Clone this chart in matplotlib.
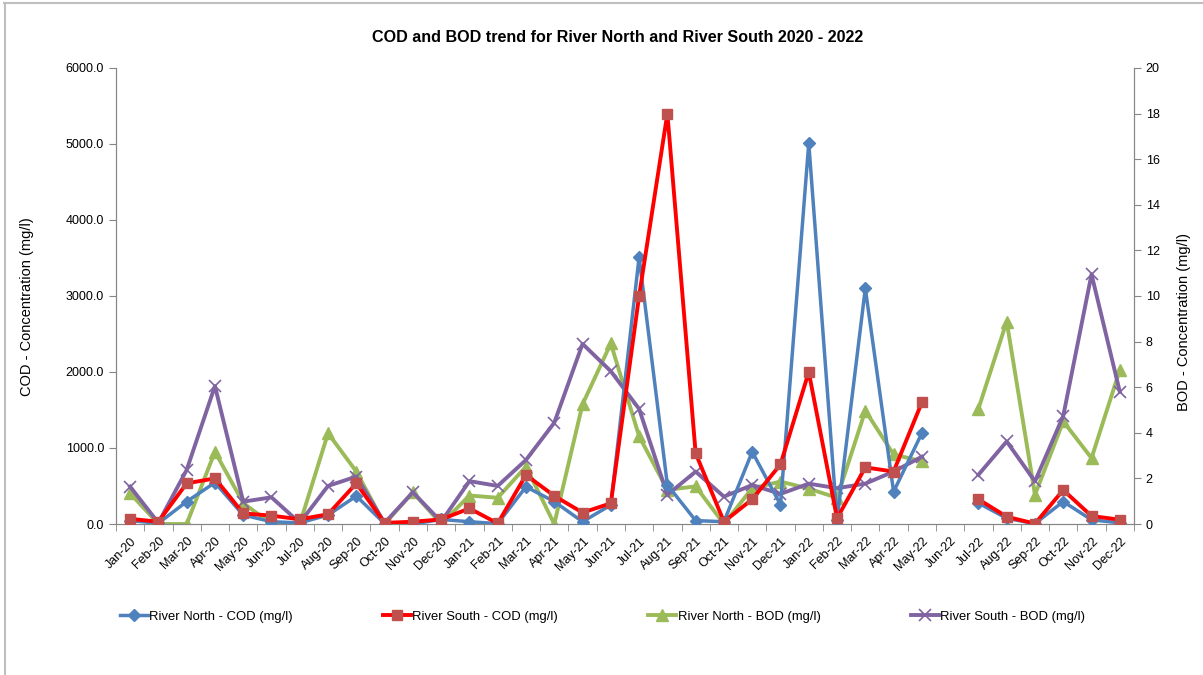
import matplotlib
matplotlib.use('Agg')
import matplotlib.pyplot as plt
from matplotlib.lines import Line2D
import numpy as np

plt.rcParams['font.family'] = ['Liberation Sans', 'DejaVu Sans']

# monthly samples, Jan-20 .. Dec-22 (no sampling in Jun-22)
months = ['Jan-20', 'Feb-20', 'Mar-20', 'Apr-20', 'May-20', 'Jun-20', 'Jul-20', 'Aug-20',
          'Sep-20', 'Oct-20', 'Nov-20', 'Dec-20',
          'Jan-21', 'Feb-21', 'Mar-21', 'Apr-21', 'May-21', 'Jun-21', 'Jul-21', 'Aug-21',
          'Sep-21', 'Oct-21', 'Nov-21', 'Dec-21',
          'Jan-22', 'Feb-22', 'Mar-22', 'Apr-22', 'May-22', 'Jun-22', 'Jul-22', 'Aug-22',
          'Sep-22', 'Oct-22', 'Nov-22', 'Dec-22']
nan = np.nan
north_cod = [45, 10, 295, 545, 118, 30, 15, 118, 368, 5, 0, 60,
             30, 5, 490, 295, 30, 250, 3510, 515, 45, 30, 950, 255,
             5010, 55, 3100, 425, 1195, nan, 275, 75, 5, 295, 55, 15]
south_cod = [68, 30, 535, 600, 140, 110, 62, 128, 535, 15, 30, 60,
             205, 8, 645, 370, 150, 272, 3000, 5400, 930, 30, 325, 785,
             2000, 75, 745, 690, 1600, nan, 325, 96, 5, 447, 105, 57]
north_bod = [1.35, 0.0, 0.0, 3.17, 0.92, 0.0, 0.0, 3.98, 2.3, 0.0, 1.39, 0.0,
             1.25, 1.15, 2.52, 0.0, 5.25, 7.92, 3.85, 1.5, 1.65, 0.0, 1.57, 1.86,
             1.55, 1.15, 4.97, 3.05, 2.75, nan, 5.05, 8.88, 1.28, 4.5, 2.89, 6.76]
south_bod = [1.64, 0.05, 2.37, 6.05, 0.98, 1.17, 0.05, 1.67, 2.08, 0.05, 1.39, 0.1,
             1.88, 1.67, 2.81, 4.44, 7.9, 6.7, 5.05, 1.28, 2.3, 1.2, 1.71, 1.32,
             1.77, 1.57, 1.77, 2.3, 2.95, nan, 2.16, 3.62, 1.87, 4.74, 10.95, 5.8]

x = np.arange(len(months))

fig = plt.figure(figsize=(12.03, 6.75), dpi=100)
ax = fig.add_axes([0.0964, 0.2237, 0.8462, 0.6756])
ax2 = ax.twinx()

ax.plot(x, north_cod, color='#4F81BD', lw=2.5, marker='D', ms=6,
        mfc='#4F81BD', mec='#4F81BD', label='River North - COD (mg/l)', zorder=3)
ax.plot(x, south_cod, color='#FF0000', lw=2.8, marker='s', ms=7,
        mfc='#C0504D', mec='#C0504D', label='River South - COD (mg/l)', zorder=3)
ax2.plot(x, north_bod, color='#9BBB59', lw=2.8, marker='^', ms=8,
         mfc='#9BBB59', mec='#9BBB59', label='River North - BOD (mg/l)')
ax2.plot(x, south_bod, color='#8064A2', lw=2.8, marker='x', ms=8, mew=1.2,
         mfc='#8064A2', mec='#8064A2', label='River South - BOD (mg/l)')

ax.set_zorder(ax2.get_zorder() + 1)
ax.patch.set_visible(False)

ax.set_xlim(-0.5, len(months) - 0.5)
ax.set_ylim(0, 6000)
ax2.set_ylim(0, 20)
ax.set_yticks(np.arange(0, 6001, 1000))
ax.set_yticklabels(['%.1f' % v for v in np.arange(0, 6001, 1000)])
ax2.set_yticks(np.arange(0, 21, 2))

ax.set_xticks(x)
ax.set_xticklabels(months, rotation=45, ha='right', rotation_mode='anchor', fontsize=9)
ax.set_xticks(np.arange(-0.5, len(months), 1), minor=True)
ax.tick_params(axis='x', which='major', length=0, pad=8)
ax.tick_params(axis='x', which='minor', length=5, color='#868686')
ax.tick_params(axis='y', length=5, color='#868686', labelsize=9)
ax2.tick_params(axis='y', length=5, color='#868686', labelsize=9)

for a in (ax, ax2):
    a.spines['top'].set_visible(False)
    for s in ('left', 'right', 'bottom'):
        a.spines[s].set_color('#868686')

ax.set_ylabel('COD - Concentration (mg/l)', fontsize=10.5)
ax2.set_ylabel('BOD - Concentration (mg/l)', fontsize=10.5)
ax.yaxis.set_label_coords(-0.081, 0.476)
ax2.yaxis.set_label_coords(1.042, 0.443)

fig.text(0.513, 0.945, 'COD and BOD trend for River North and River South 2020 - 2022',
         ha='center', va='center', fontsize=11.6, fontweight='bold')

h1, l1 = ax.get_legend_handles_labels()
h2, l2 = ax2.get_legend_handles_labels()
fig.legend(h1 + h2, l1 + l2, loc='center left', bbox_to_anchor=(120 / 1203, 0.086),
           ncol=4, frameon=False, fontsize=9.4, columnspacing=6.9, handlelength=2.15,
           handletextpad=0.1, borderpad=0, borderaxespad=0)

# thin frame round the chart area
fig.add_artist(Line2D([0.0035, 1.0], [0.9955, 0.9955], color='#BFBFBF', lw=1.5,
                      transform=fig.transFigure))
fig.add_artist(Line2D([0.0045, 0.0045], [0.0, 0.9955], color='#BFBFBF', lw=1.5,
                      transform=fig.transFigure))

fig.savefig('out.png', dpi=100)
